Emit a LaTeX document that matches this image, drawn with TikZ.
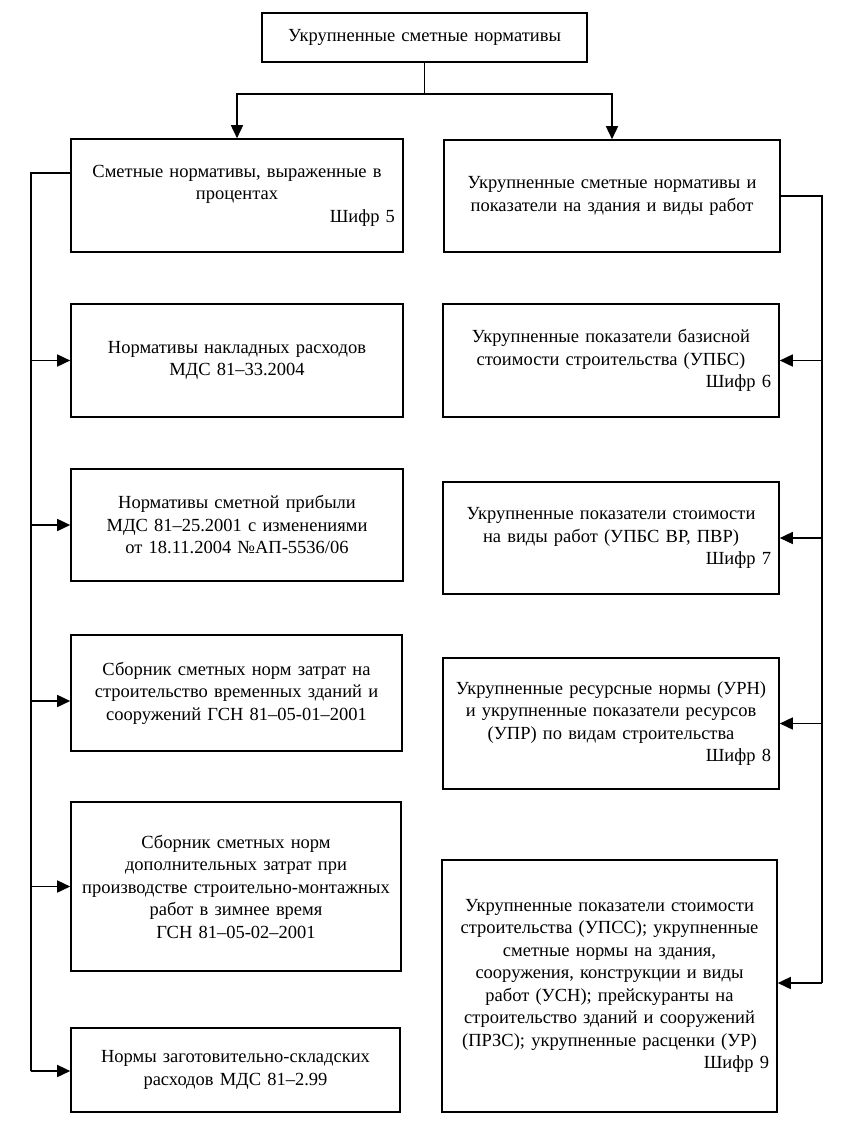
\documentclass[tikz,border=0pt]{standalone}
\usepackage{fontspec}
\setmainfont{Liberation Serif}
\usetikzlibrary{arrows.meta}
\begin{document}
\begin{tikzpicture}[x=1bp,y=-1bp,
  box/.style={draw,line width=1.6bp,align=center,inner xsep=8bp,inner ysep=4bp,
    font=\fontsize{18.5bp}{22.5bp}\selectfont},
  link/.style={line width=1.6bp},
  arr/.style={link,-{Triangle[length=13bp,width=12bp]}}]
\useasboundingbox (0,0) rectangle (860,1142);
\fill[white] (0,0) rectangle (860,1142);

\node[box,text width=309bp,minimum height=49bp] (top) at (424.5,37.5) {Укрупненные сметные нормативы};

\node[box,text width=316bp,minimum height=113bp] (L1) at (237,195.5)
  {Сметные нормативы, выраженные в\\процентах\\\hspace*{\fill}Шифр 5};
\node[box,text width=320bp,minimum height=112bp] (R1) at (612,196)
  {Укрупненные сметные нормативы и\\показатели на здания и виды работ};

\node[box,text width=316bp,minimum height=113bp] (L2) at (237,360.5)
  {Нормативы накладных расходов\\МДС 81–33.2004};
\node[box,text width=320bp,minimum height=113bp] (R2) at (611,360.5)
  {Укрупненные показатели базисной\\стоимости строительства (УПБС)\\\hspace*{\fill}Шифр 6};

\node[box,text width=316bp,minimum height=112bp] (L3) at (237,525)
  {Нормативы сметной прибыли\\МДС 81–25.2001 с изменениями\\от 18.11.2004 №АП-5536/06};
\node[box,text width=320bp,minimum height=112bp] (R3) at (611,538)
  {Укрупненные показатели стоимости\\на виды работ (УПБС ВР, ПВР)\\\hspace*{\fill}Шифр 7};

\node[box,text width=315bp,minimum height=116bp] (L4) at (236.5,693)
  {Сборник сметных норм затрат на\\строительство временных зданий и\\сооружений ГСН 81–05-01–2001};
\node[box,text width=320bp,minimum height=131bp] (R4) at (611,723.5)
  {Укрупненные ресурсные нормы (УРН)\\и укрупненные показатели ресурсов\\(УПР) по видам строительства\\\hspace*{\fill}Шифр 8};

\node[box,text width=314bp,minimum height=169bp] (L5) at (236,886.5)
  {Сборник сметных норм\\дополнительных затрат при\\производстве строительно-монтажных\\работ в зимнее время\\ГСН 81–05-02–2001};
\node[box,text width=319bp,minimum height=252bp] (R5) at (609.5,986)
  {Укрупненные показатели стоимости\\строительства (УПСС); укрупненные\\сметные нормы на здания,\\сооружения, конструкции и виды\\работ (УСН); прейскуранты на\\строительство зданий и сооружений\\(ПРЗС); укрупненные расценки (УР)\\\hspace*{\fill}Шифр 9};

\node[box,text width=313bp,minimum height=84bp] (L6) at (235.5,1070)
  {Нормы заготовительно-складских\\расходов МДС 81–2.99};

% top fork
\coordinate (fork) at (424.5,94);
\draw[link] (top.south) -- (fork);
\draw[arr] (fork) -| (L1.north);
\draw[arr] (fork) -| (R1.north);

% left bus
\coordinate (lbus) at (31,173);
\coordinate (lend) at (31,1071);
\draw[link] ([yshift=22.5bp]L1.west) -- (lbus) -- (lend);
\draw[arr] (lbus |- L2.west) -- (L2.west);
\draw[arr] (lbus |- L3.west) -- (L3.west);
\draw[arr] ([yshift=-8bp]lbus |- L4.west) -- ([yshift=-8bp]L4.west);
\draw[arr] (lbus |- L5.west) -- (L5.west);
\draw[arr] (lend) -- (lend -| L6.west);

% right bus
\coordinate (rbus) at (822,196);
\coordinate (rend) at (822,983);
\draw[link] (R1.east) -- (rbus) -- (rend);
\draw[arr] (rbus |- R2.east) -- (R2.east);
\draw[arr] (rbus |- R3.east) -- (R3.east);
\draw[arr] (rbus |- R4.east) -- (R4.east);
\draw[arr] (rend) -- (rend -| R5.east);
\end{tikzpicture}
\end{document}
